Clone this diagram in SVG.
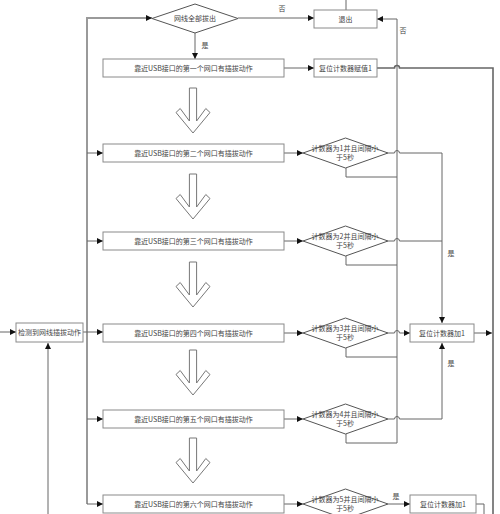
<svg xmlns="http://www.w3.org/2000/svg" width="500" height="514" viewBox="0 0 500 514">
<style>
.box{fill:#fff;stroke:#8a8a8a;stroke-width:1}
.dia{fill:#fff;stroke:#555;stroke-width:1}
.big{fill:#fff;stroke:#777;stroke-width:1}
.t{font-family:"Noto Sans CJK SC","Noto Sans CJK JP",sans-serif;font-size:7px;fill:#444;text-anchor:middle}
.c{fill:none;stroke:#666;stroke-width:1}
.g{fill:none;stroke:#9a9a9a;stroke-width:2}
.k{fill:none;stroke:#666;stroke-width:1.6}
</style>
<defs>
<marker id="a" viewBox="0 0 8 8" refX="8" refY="4" markerWidth="6" markerHeight="6" markerUnits="userSpaceOnUse" orient="auto">
<path d="M0,0 L8,4 L0,8 Z" fill="#111"/>
</marker>
<polygon id="bigarrow" class="big" points="-3.6,0 3.6,0 3.6,33 12.8,20.5 17,24.5 0,45 -17,24.5 -12.8,20.5 -3.6,33"/>
</defs>

<g id="connectors">
<path class="g" d="M87,504 V18 H152" marker-end="url(#a)"/>
<path class="c" d="M87,504 H103" marker-end="url(#a)"/>
<path class="c" d="M87,153 H103" marker-end="url(#a)"/>
<path class="c" d="M87,241 H103" marker-end="url(#a)"/>
<path class="c" d="M87,419 H103" marker-end="url(#a)"/>
<path class="c" d="M0,332 H16" marker-end="url(#a)"/>
<path class="c" d="M83,332 H103" marker-end="url(#a)"/>
<path class="c" d="M48,514 V343" marker-end="url(#a)"/>
<path class="c" d="M195,33 V59" marker-end="url(#a)"/>
<path class="c" d="M238,18 H314" marker-end="url(#a)"/>
<path class="c" d="M346,0 V10"/>
<path class="c" d="M397,443 V19 H377" marker-end="url(#a)"/>
<path class="c" d="M284,68 H314" marker-end="url(#a)"/>
<path class="k" d="M377,68 H394.5 A2.5,2.5 0 0 1 399.5,68 H493 V514"/>
<path class="c" d="M284,153 H303" marker-end="url(#a)"/>
<path class="c" d="M284,241 H303" marker-end="url(#a)"/>
<path class="c" d="M284,333 H303" marker-end="url(#a)"/>
<path class="c" d="M284,419 H303" marker-end="url(#a)"/>
<path class="c" d="M284,504 H303" marker-end="url(#a)"/>
<path class="c" d="M346,168 V177 H397"/>
<path class="c" d="M346,256 V265 H397"/>
<path class="c" d="M346,348 V357 H397"/>
<path class="c" d="M346,434 V443 H397"/>
<path class="c" d="M388,153 H394.5 A2.5,2.5 0 0 1 399.5,153 H442 V323" marker-end="url(#a)"/>
<path class="c" d="M388,241 H394.5 A2.5,2.5 0 0 1 399.5,241 H442"/>
<path class="c" d="M388,333 H394.5 A2.5,2.5 0 0 1 399.5,333 H410" marker-end="url(#a)"/>
<path class="c" d="M388,419 H394.5 A2.5,2.5 0 0 1 399.5,419 H442 V343" marker-end="url(#a)"/>
<path class="c" d="M474,333 H492" marker-end="url(#a)"/>
<path class="c" d="M388,504 H410" marker-end="url(#a)"/>
<path class="c" d="M476,504 H484 V514"/>
<text class="t" x="282" y="11">否</text>
<text class="t" x="205" y="48">是</text>
<text class="t" x="403" y="33">否</text>
<text class="t" x="451" y="256">是</text>
<text class="t" x="451" y="366">是</text>
<text class="t" x="396" y="499">是</text>
</g>

<g id="n-check">
<polygon class="dia" points="195,4 238,18.5 195,33 152,18.5"/>
<text class="t" x="195" y="21">网线全部拔出</text>
</g>
<g id="n-exit">
<rect class="box" x="314" y="10" width="63" height="18"/>
<text class="t" x="345.5" y="21.5">退出</text>
</g>
<g id="n-row1">
<rect class="box" x="103" y="59" width="181" height="18"/>
<text class="t" x="193.5" y="70.5">靠近USB接口的第一个网口有插拔动作</text>
</g>
<g id="n-reset1">
<rect class="box" x="314" y="59" width="63" height="18"/>
<text class="t" x="345.5" y="70.5">复位计数器赋值1</text>
</g>
<g id="n-row2">
<rect class="box" x="103" y="144" width="181" height="18"/>
<text class="t" x="193.5" y="155.5">靠近USB接口的第二个网口有插拔动作</text>
</g>
<g id="n-d1">
<polygon class="dia" points="345.5,138 388,153 345.5,168 303,153"/>
<text class="t" x="345" y="151">计数器为1并且间隔小</text>
<text class="t" x="345" y="160">于5秒</text>
</g>
<g id="n-row3">
<rect class="box" x="103" y="232" width="181" height="18"/>
<text class="t" x="193.5" y="243.5">靠近USB接口的第三个网口有插拔动作</text>
</g>
<g id="n-d2">
<polygon class="dia" points="345.5,226 388,241 345.5,256 303,241"/>
<text class="t" x="345" y="239">计数器为2并且间隔小</text>
<text class="t" x="345" y="248">于5秒</text>
</g>
<g id="n-detect">
<rect class="box" x="16" y="323" width="67" height="19"/>
<text class="t" x="49.5" y="335">检测到网线插拔动作</text>
</g>
<g id="n-row4">
<rect class="box" x="103" y="324" width="181" height="18"/>
<text class="t" x="193.5" y="335.5">靠近USB接口的第四个网口有插拔动作</text>
</g>
<g id="n-d3">
<polygon class="dia" points="345.5,318 388,333 345.5,348 303,333"/>
<text class="t" x="345" y="331">计数器为3并且间隔小</text>
<text class="t" x="345" y="340">于5秒</text>
</g>
<g id="n-inc1">
<rect class="box" x="410" y="324" width="64" height="18"/>
<text class="t" x="442" y="335.5">复位计数器加1</text>
</g>
<g id="n-row5">
<rect class="box" x="103" y="410" width="181" height="18"/>
<text class="t" x="193.5" y="421.5">靠近USB接口的第五个网口有插拔动作</text>
</g>
<g id="n-d4">
<polygon class="dia" points="345.5,404 388,419 345.5,434 303,419"/>
<text class="t" x="345" y="417">计数器为4并且间隔小</text>
<text class="t" x="345" y="426">于5秒</text>
</g>
<g id="n-row6">
<rect class="box" x="103" y="495" width="181" height="18"/>
<text class="t" x="193.5" y="506.5">靠近USB接口的第六个网口有插拔动作</text>
</g>
<g id="n-d5">
<polygon class="dia" points="345.5,489 388,504 345.5,519 303,504"/>
<text class="t" x="345" y="502">计数器为5并且间隔小</text>
<text class="t" x="345" y="511">于5秒</text>
</g>
<g id="n-inc2">
<rect class="box" x="410" y="495" width="66" height="18"/>
<text class="t" x="443" y="506.5">复位计数器加1</text>
</g>

<g id="n-bigarrows">
<use href="#bigarrow" x="193" y="88"/>
<use href="#bigarrow" x="193" y="174"/>
<use href="#bigarrow" x="193" y="262"/>
<use href="#bigarrow" x="193" y="350"/>
<use href="#bigarrow" x="193" y="438"/>
</g>
</svg>
